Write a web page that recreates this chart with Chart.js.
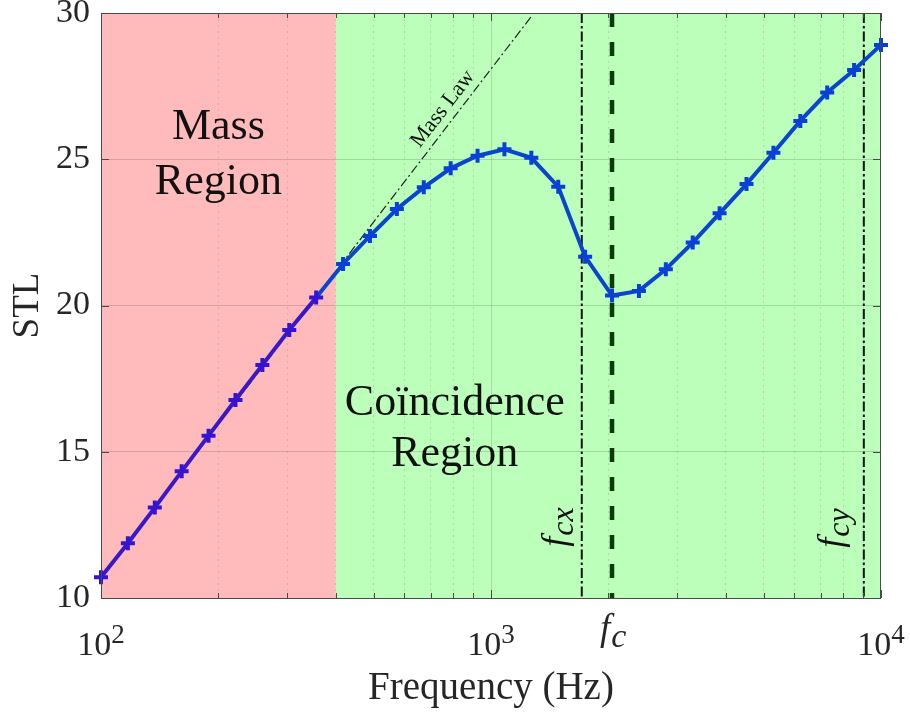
<!DOCTYPE html>
<html><head><meta charset="utf-8">
<style>html,body{margin:0;padding:0;background:#fff}#wrap{width:910px;height:719px}</style>
<script src="https://cdn.jsdelivr.net/npm/chart.js@4.4.1/dist/chart.umd.min.js"></script>
</head><body><div id="wrap"><canvas id="c" width="910" height="719"></canvas></div>
<script>
// ---- data ----
const FREQ = [100, 117.2, 137.4, 161.0, 188.7, 221.2, 259.3, 303.9, 356.2, 417.5,
  489.4, 573.7, 672.4, 788.1, 923.7, 1082.6, 1268.9, 1487.4, 1743.3, 2043.4,
  2395.0, 2807.2, 3290.3, 3856.6, 4520.4, 5298.3, 6210.2, 7278.9, 8531.7, 10000];
const STL = [10.71, 11.87, 13.09, 14.33, 15.55, 16.77, 17.97, 19.16, 20.27, 21.42,
  22.38, 23.30, 24.04, 24.69, 25.12, 25.34, 25.05, 24.06, 21.67, 20.34,
  20.50, 21.24, 22.15, 23.15, 24.15, 25.22, 26.31, 27.28, 28.05, 28.91];
const MASS_LAW_F = [100, 1272];
const MASS_LAW_STL = [10.71, 29.9];
const MASS_REGION_END = 400;
const F_CX = 1709, F_C = 2043, F_CY = 9035;
const X_GRID_VALUES = [100,200,300,400,500,600,700,800,900,1000,2000,3000,4000,5000,6000,7000,8000,9000,10000];
const X_LABEL_VALUES = [100, 1000, 10000];
const X_LABEL_EXP = ['2', '3', '4'];
const Y_MIN = 10, Y_MAX = 30, Y_STEP = 5;

const SERIF = '"Liberation Serif","Times New Roman",serif';
const TEXT = '#262626';
const isDecade = v => Math.abs(Math.log10(v) - Math.round(Math.log10(v))) < 1e-9;

const bgPlugin = {
  id: 'bg',
  beforeDraw(chart) {
    const {ctx, chartArea: a, scales: {x}} = chart;
    ctx.save();
    ctx.fillStyle = '#fff'; ctx.fillRect(0, 0, chart.width, chart.height);
    const xm = x.getPixelForValue(MASS_REGION_END);
    ctx.fillStyle = '#FFBBBB'; ctx.fillRect(a.left, a.top, xm - a.left, a.bottom - a.top);
    ctx.fillStyle = '#BBFFBB'; ctx.fillRect(xm, a.top, a.right - xm, a.bottom - a.top);
    ctx.restore();
  }
};

function drawFLabel(ctx, sub, mainSize, subSize, drop) {
  ctx.font = 'italic ' + mainSize + 'px ' + SERIF;
  ctx.fillText('f', 0, 0);
  const w = ctx.measureText('f').width;
  ctx.font = 'italic ' + subSize + 'px ' + SERIF;
  ctx.fillText(sub, w + 1, drop);
}

const annotPlugin = {
  id: 'annot',
  afterDraw(chart) {
    const {ctx, chartArea: a, scales: {x, y}} = chart;
    ctx.save();
    // frame + inward ticks
    ctx.strokeStyle = '#4a4a4a'; ctx.lineWidth = 1;
    ctx.beginPath();
    x.ticks.forEach(t => {
      const px = Math.round(x.getPixelForValue(t.value)) + 0.5;
      const len = isDecade(t.value) ? 8 : 5;
      ctx.moveTo(px, a.bottom); ctx.lineTo(px, a.bottom - len);
      ctx.moveTo(px, a.top); ctx.lineTo(px, a.top + len);
    });
    y.ticks.forEach(t => {
      const py = Math.round(y.getPixelForValue(t.value)) + 0.5;
      ctx.moveTo(a.left, py); ctx.lineTo(a.left + 8, py);
      ctx.moveTo(a.right, py); ctx.lineTo(a.right - 8, py);
    });
    ctx.stroke();
    ctx.strokeRect(Math.round(a.left) + 0.5, Math.round(a.top) + 0.5,
      Math.round(a.right - a.left) - 1, Math.round(a.bottom - a.top));

    ctx.fillStyle = TEXT;
    ctx.textBaseline = 'alphabetic';
    // x tick labels 10^n
    X_LABEL_VALUES.forEach((v, i) => {
      const px = x.getPixelForValue(v);
      ctx.font = '34px ' + SERIF;
      const w1 = ctx.measureText('10').width;
      ctx.font = '27px ' + SERIF;
      const w2 = ctx.measureText(X_LABEL_EXP[i]).width;
      const x0 = px - (w1 + w2) / 2;
      ctx.textAlign = 'left';
      ctx.font = '34px ' + SERIF;
      ctx.fillText('10', x0, a.bottom + 57);
      ctx.font = '27px ' + SERIF;
      ctx.fillText(X_LABEL_EXP[i], x0 + w1, a.bottom + 45);
    });
    // f_c tick label
    ctx.save();
    ctx.translate(x.getPixelForValue(F_C) - 12, a.bottom + 42);
    ctx.textAlign = 'left';
    drawFLabel(ctx, 'c', 37, 34, 7);
    ctx.restore();

    // rotated f_cx / f_cy
    ctx.fillStyle = '#111';
    ctx.save();
    ctx.translate(x.getPixelForValue(F_CX) - 16, y.getPixelForValue(11.75));
    ctx.rotate(-Math.PI / 2);
    drawFLabel(ctx, 'cx', 36, 32, 7);
    ctx.restore();
    ctx.save();
    ctx.translate(x.getPixelForValue(F_CY) - 22, y.getPixelForValue(11.72));
    ctx.rotate(-Math.PI / 2);
    drawFLabel(ctx, 'cy', 36, 32, 7);
    ctx.restore();

    // region labels
    ctx.fillStyle = '#111';
    ctx.textAlign = 'center';
    ctx.font = '44px ' + SERIF;
    const xm = x.getPixelForValue(MASS_REGION_END);
    const cxMass = (a.left + xm) / 2;
    ctx.fillText('Mass', cxMass, y.getPixelForValue(25.7));
    ctx.fillText('Region', cxMass, y.getPixelForValue(23.82));
    const cxCo = (xm + x.getPixelForValue(F_CX)) / 2 - 4;
    ctx.fillText('Coïncidence', cxCo, y.getPixelForValue(16.27));
    ctx.fillText('Region', cxCo, y.getPixelForValue(14.5));

    // Mass Law label along the line
    const p0x = x.getPixelForValue(MASS_LAW_F[0]), p0y = y.getPixelForValue(MASS_LAW_STL[0]);
    const p1x = x.getPixelForValue(MASS_LAW_F[1]), p1y = y.getPixelForValue(MASS_LAW_STL[1]);
    const ang = Math.atan2(p1y - p0y, p1x - p0x);
    const L = Math.hypot(p1x - p0x, p1y - p0y);
    const along = 0.755 * L;
    ctx.save();
    ctx.translate(p0x + Math.cos(ang) * along, p0y + Math.sin(ang) * along);
    ctx.rotate(ang);
    ctx.textAlign = 'left';
    ctx.font = '22px ' + SERIF;
    ctx.fillText('Mass Law', 0, -8);
    ctx.restore();

    ctx.restore();
  }
};

const stlData = FREQ.map((f, i) => ({x: f, y: STL[i]}));
const massLawData = MASS_LAW_F.map((f, i) => ({x: f, y: MASS_LAW_STL[i]}));
const vline = f => [{x: f, y: Y_MAX}, {x: f, y: Y_MIN}];

new Chart(document.getElementById('c'), {
  type: 'line',
  data: {
    datasets: [
      {
        label: 'STL', data: stlData, order: 0, clip: false,
        borderWidth: 4, tension: 0,
        borderColor: '#0A45CC',
        segment: {borderColor: c => c.p1.parsed.x <= MASS_REGION_END ? '#3A18C6' : '#0A45CC'},
        pointStyle: 'cross', pointRadius: 7, pointBorderWidth: 4,
        pointBorderColor: c => (c.raw && c.raw.x <= MASS_REGION_END) ? '#3414D2' : '#0A40D8',
        pointBackgroundColor: '#0A40D8'
      },
      {
        label: 'Mass Law', data: massLawData, order: 1,
        borderColor: '#222', borderWidth: 1.2, borderDash: [9, 3, 2, 3],
        pointRadius: 0, tension: 0
      },
      {
        label: 'fcx', data: vline(F_CX), order: 2,
        borderColor: '#111', borderWidth: 2, borderDash: [10, 3, 2.5, 3],
        pointRadius: 0
      },
      {
        label: 'fc', data: vline(F_C), order: 2,
        borderColor: '#0B3A0B', borderWidth: 4.5, borderDash: [14, 15], borderDashOffset: 0,
        pointRadius: 0
      },
      {
        label: 'fcy', data: vline(F_CY), order: 2,
        borderColor: '#111', borderWidth: 2, borderDash: [10, 3, 2.5, 3],
        pointRadius: 0
      }
    ]
  },
  options: {
    responsive: false, animation: false, devicePixelRatio: 1,
    layout: {padding: {top: 13, right: 29, left: 0, bottom: 0}},
    plugins: {legend: {display: false}, tooltip: {enabled: false}},
    scales: {
      x: {
        type: 'logarithmic', min: 100, max: 10000,
        afterBuildTicks(s) { s.ticks = X_GRID_VALUES.map(v => ({value: v, major: isDecade(v)})); },
        ticks: {display: false},
        grid: {
          drawTicks: false, lineWidth: 1,
          color: c => {
            const v = c.tick ? c.tick.value : 0;
            if (v === 100 || v === 10000) return 'rgba(0,0,0,0)';
            return isDecade(v) ? 'rgba(60,60,60,0.18)' : 'rgba(60,60,60,0.16)';
          }
        },
        border: {display: false, dash: c => (c.tick && !isDecade(c.tick.value)) ? [2, 4] : []},
        title: {display: true, text: 'Frequency (Hz)', color: TEXT,
          font: {family: SERIF, size: 39}, padding: {top: 0, bottom: 7}},
        afterFit(s) { s.height = 121; s.paddingLeft = 0; s.paddingRight = 0; }
      },
      y: {
        min: Y_MIN, max: Y_MAX,
        ticks: {stepSize: Y_STEP, color: TEXT, padding: 11, font: {family: SERIF, size: 34}},
        grid: {
          drawTicks: false, lineWidth: 1,
          color: c => {
            const v = c.tick ? c.tick.value : 0;
            return (v === Y_MIN || v === Y_MAX) ? 'rgba(0,0,0,0)' : 'rgba(60,60,60,0.2)';
          }
        },
        border: {display: false},
        title: {display: true, text: 'STL', color: TEXT,
          font: {family: SERIF, size: 37}, padding: {top: 6, bottom: 0}},
        afterFit(s) { s.width = 101; s.paddingTop = 0; s.paddingBottom = 0; }
      }
    }
  },
  plugins: [bgPlugin, annotPlugin]
});
</script>
</body></html>
